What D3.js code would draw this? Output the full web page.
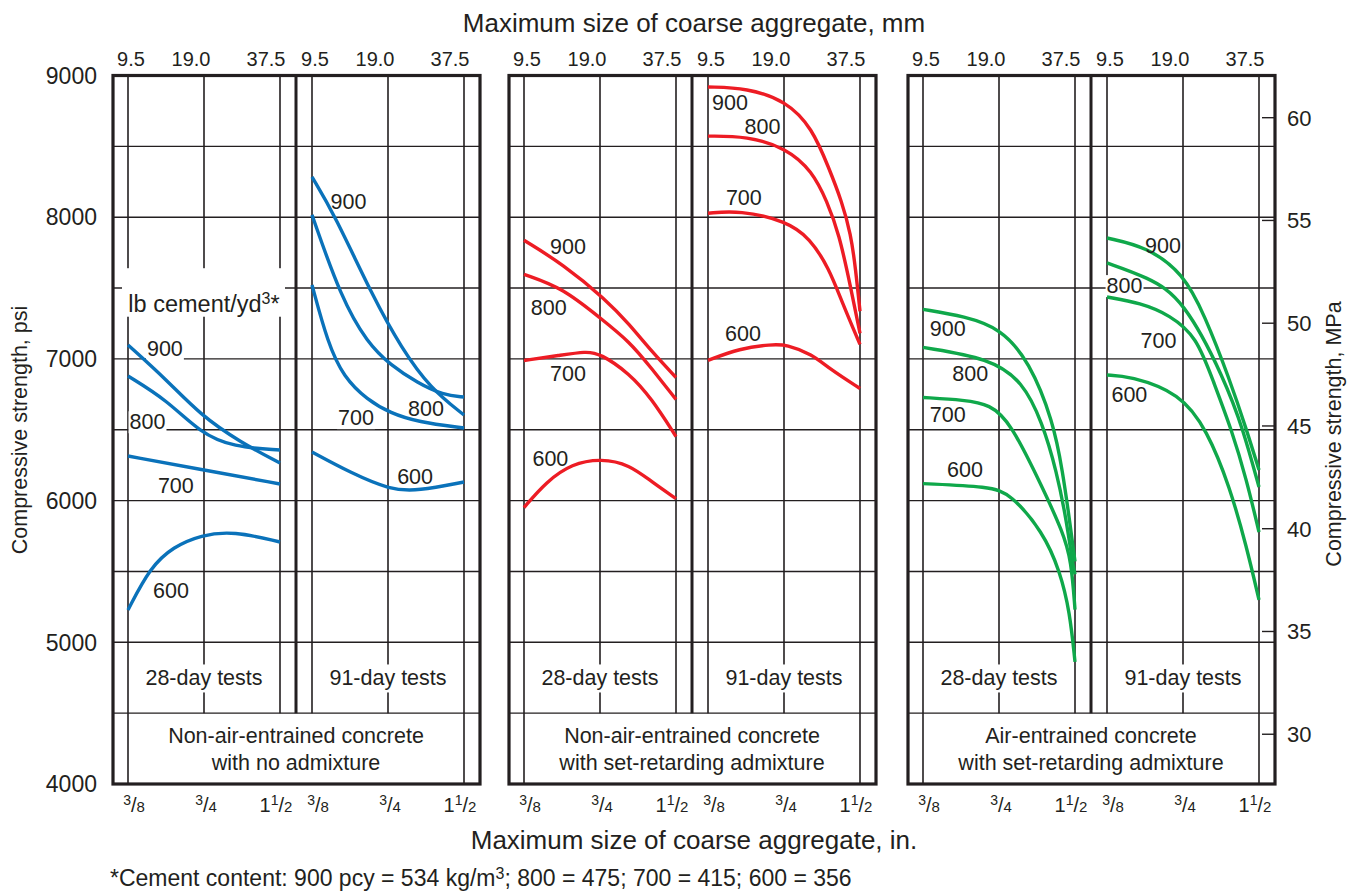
<!DOCTYPE html>
<html>
<head>
<meta charset="utf-8">
<script src="https://cdn.jsdelivr.net/npm/d3@7"></script>
<style>
  body { margin: 0; background: #fff; }
  svg text { font-family: "Liberation Sans", Arial, Helvetica, sans-serif; fill: #231f20; }
</style>
</head>
<body>
<svg id="chart" width="1358" height="891"></svg>
<script>
// ---- axis values ----
const sizesIn = [0.375, 0.75, 1.5];
const sizesMm = ["9.5", "19.0", "37.5"];
const sizesFrac = [["", "3", "8"], ["", "3", "4"], ["1", "1", "2"]];
const psiTicks = [4000, 5000, 6000, 7000, 8000, 9000];
const psiGrid = [4500, 5000, 5500, 6000, 6500, 7000, 7500, 8000, 8500];
const mpaTicks = [30, 35, 40, 45, 50, 55, 60];
const cements = [900, 800, 700, 600];

// ---- curves: [max size in., strength psi], one list per cement content (900, 800, 700, 600) ----
const noAdmix28 = [
  [[0.375, 7098], [0.534, 6851], [0.726, 6604], [1.04, 6414], [1.5, 6265]],
  [[0.375, 6879], [0.534, 6710], [0.726, 6477], [0.98, 6378], [1.5, 6357]],
  [[0.375, 6315], [0.75, 6216], [1.5, 6117]],
  [[0.375, 5228], [0.46, 5531], [0.566, 5673], [0.73, 5757], [0.98, 5785], [1.5, 5708]]
];
const noAdmix91 = [
  [[0.375, 8284], [0.459, 8023], [0.657, 7430], [0.848, 7077], [1.1, 6795], [1.5, 6604]],
  [[0.375, 8016], [0.489, 7430], [0.622, 7112], [0.767, 6957], [0.983, 6830], [1.24, 6745], [1.5, 6731]],
  [[0.375, 7522], [0.433, 7112], [0.5, 6872], [0.622, 6710], [0.767, 6618], [0.983, 6555], [1.5, 6512]],
  [[0.375, 6343], [0.535, 6195], [0.767, 6075], [0.983, 6068], [1.5, 6131]]
];
const retard28 = [
  [[0.375, 7837], [0.535, 7668], [0.79, 7420], [0.98, 7244], [1.2, 7053], [1.5, 6869]],
  [[0.375, 7597], [0.535, 7500], [0.75, 7289], [0.98, 7124], [1.2, 6933], [1.5, 6714]],
  [[0.375, 6989], [0.52, 7025], [0.66, 7053], [0.75, 7039], [0.98, 6898], [1.2, 6721], [1.5, 6452]],
  [[0.375, 5951], [0.46, 6134], [0.58, 6261], [0.76, 6297], [0.98, 6254], [1.2, 6134], [1.5, 6014]]
];
const retard91 = [
  [[0.375, 8919], [0.535, 8912], [0.767, 8820], [0.97, 8629], [1.13, 8346], [1.27, 8113], [1.38, 7880], [1.44, 7640], [1.5, 7336]],
  [[0.375, 8572], [0.535, 8572], [0.767, 8488], [0.97, 8325], [1.11, 8113], [1.24, 7880], [1.37, 7527], [1.5, 7180]],
  [[0.375, 8028], [0.5, 8049], [0.767, 7972], [0.95, 7852], [1.13, 7640], [1.27, 7406], [1.5, 7102]],
  [[0.375, 6989], [0.5, 7074], [0.67, 7102], [0.767, 7102], [0.97, 7032], [1.13, 6933], [1.5, 6791]]
];
const air28 = [
  [[0.375, 7350], [0.55, 7300], [0.76, 7216], [0.99, 6982], [1.23, 6558], [1.34, 6205], [1.43, 5852], [1.5, 5570]],
  [[0.375, 7081], [0.69, 7004], [0.93, 6841], [1.11, 6558], [1.27, 6205], [1.39, 5852], [1.47, 5548], [1.5, 5480]],
  [[0.375, 6728], [0.55, 6710], [0.69, 6678], [0.83, 6558], [1.12, 6085], [1.34, 5781], [1.45, 5580], [1.5, 5230]],
  [[0.375, 6120], [0.69, 6099], [0.83, 6049], [1.12, 5781], [1.31, 5498], [1.43, 5216], [1.5, 4862]]
];
const air91 = [
  [[0.375, 7853], [0.54, 7790], [0.75, 7606], [0.914, 7310], [1.15, 6851], [1.34, 6498], [1.5, 6216]],
  [[0.375, 7677], [0.54, 7578], [0.75, 7430], [1.1, 6851], [1.3, 6498], [1.5, 6096]],
  [[0.375, 7437], [0.509, 7395], [0.665, 7310], [0.85, 7155], [0.984, 6851], [1.17, 6498], [1.34, 6145], [1.5, 5778]],
  [[0.375, 6886], [0.46, 6879], [0.73, 6759], [0.934, 6498], [1.15, 6096], [1.34, 5673], [1.5, 5299]]
];

// where the cement numbers sit (max size in., psi), same order as cements
const noAdmix28Spots = [[0.525, 7074], [0.448, 6558], [0.58, 6106], [0.555, 5364]];
const noAdmix91Spots = [[0.523, 8113], [1.06, 6650], [0.56, 6587], [0.96, 6170]];
const retard28Spots = [[0.56, 7795], [0.47, 7364], [0.56, 6898], [0.477, 6297]];
const retard91Spots = [[0.458, 8813], [0.616, 8643], [0.52, 8141], [0.516, 7180]];
const air28Spots = [[0.47, 7216], [0.577, 6898], [0.47, 6608], [0.55, 6219]];
const air91Spots = [[0.625, 7802], [0.44, 7519], [0.6, 7131], [0.46, 6749]];

const groups = [
  { left: 113, color: "#0a72ba", panels: [noAdmix28, noAdmix91], spots: [noAdmix28Spots, noAdmix91Spots],
    title: ["Non-air-entrained concrete", "with no admixture"] },
  { left: 509, color: "#ed1c24", panels: [retard28, retard91], spots: [retard28Spots, retard91Spots],
    title: ["Non-air-entrained concrete", "with set-retarding admixture"] },
  { left: 908, color: "#0fa84a", panels: [air28, air91], spots: [air28Spots, air91Spots],
    title: ["Air-entrained concrete", "with set-retarding admixture"] }
];
const dayLabels = ["28-day tests", "91-day tests"];

const svg = d3.select("#chart");
const ink = "#231f20";

const y = d3.scaleLinear().domain([4000, 9000]).range([784, 75.5]);
const yMpa = d3.scaleLinear().domain([4000 / 145.038, 9000 / 145.038]).range([784, 75.5]);

const groupW = 367, divX = 183;
const panelOffsets = [15, 199], gridSpan = 152;

// white box behind a text node
function backWith(layer, textSel, pad) {
  const b = textSel.node().getBBox();
  layer.append("rect")
    .attr("x", b.x - pad).attr("y", b.y - pad + 2)
    .attr("width", b.width + 2 * pad).attr("height", b.height + 2 * pad - 4)
    .attr("fill", "#fff");
}

groups.forEach(grp => {
  const g = svg.append("g");
  const gridL = g.append("g");
  const backL = g.append("g");
  const curveL = g.append("g");
  const textL = g.append("g");
  const L = grp.left;

  // horizontal grid
  gridL.selectAll(".h").data(psiGrid).enter().append("line")
    .attr("x1", L).attr("x2", L + groupW)
    .attr("y1", d => y(d)).attr("y2", d => y(d))
    .attr("stroke", ink).attr("stroke-width", 1.4);

  grp.panels.forEach((series, p) => {
    const x = d3.scaleLog().domain([0.375, 1.5])
      .range([L + panelOffsets[p], L + panelOffsets[p] + gridSpan]);

    // vertical grid, outer ones run into the title strip
    gridL.selectAll(".v" + p).data(sizesIn).enter().append("line")
      .attr("x1", d => x(d)).attr("x2", d => x(d))
      .attr("y1", y(9000))
      .attr("y2", (d, i) => ((p === 0 && i === 0) || (p === 1 && i === 2)) ? y(4000) : y(4500))
      .attr("stroke", ink).attr("stroke-width", 1.6);

    // mm labels on top
    const mmShift = [3, -13, -14];
    textL.selectAll(".mm" + p).data(sizesMm).enter().append("text")
      .attr("x", (d, i) => x(sizesIn[i]) + mmShift[i]).attr("y", 66)
      .attr("text-anchor", "middle").attr("font-size", 20)
      .text(d => d);

    // inch labels at bottom
    const inShift = [6, 2, -4];
    sizesFrac.forEach((f, i) => {
      const t = textL.append("text")
        .attr("x", x(sizesIn[i]) + inShift[i]).attr("y", 812)
        .attr("text-anchor", "middle").attr("font-size", 20);
      if (f[0]) t.append("tspan").text(f[0]);
      t.append("tspan").attr("font-size", 14).attr("dy", -7).text(f[1]);
      t.append("tspan").attr("dy", 7).text("/");
      t.append("tspan").attr("font-size", 15).text(f[2]);
    });

    // day label
    const dl = textL.append("text")
      .attr("x", x(0.75)).attr("y", y(4750)).attr("dy", "0.36em")
      .attr("text-anchor", "middle").attr("font-size", 21.5)
      .text(dayLabels[p]);
    backWith(backL, dl, 4);

    // curves
    const line = d3.line().x(d => x(d[0])).y(d => y(d[1])).curve(d3.curveBasis);
    curveL.selectAll(".c" + p).data(series).enter().append("path")
      .attr("d", line).attr("fill", "none")
      .attr("stroke", grp.color).attr("stroke-width", 3.4);

    // cement numbers
    grp.spots[p].forEach((s, i) => {
      const t = textL.append("text")
        .attr("x", x(s[0])).attr("y", y(s[1])).attr("dy", "0.36em")
        .attr("text-anchor", "middle").attr("font-size", 21.5)
        .text(cements[i]);
      backWith(backL, t, 1);
    });

    if (grp.left === 113 && p === 0) {
      const lb = textL.append("text")
        .attr("x", x(0.75)).attr("y", y(7392)).attr("dy", "0.36em")
        .attr("text-anchor", "middle").attr("font-size", 23.5);
      lb.append("tspan").text("lb cement/yd");
      lb.append("tspan").attr("font-size", 16).attr("dy", -8).text("3");
      lb.append("tspan").attr("dy", 8).text("*");
      backL.append("rect")
        .attr("x", L + 9).attr("y", y(7640))
        .attr("width", 163).attr("height", y(7340) - y(7640) + 6)
        .attr("fill", "#fff");
    }
  });

  // divider between 28 and 91 day panels
  gridL.append("line")
    .attr("x1", L + divX).attr("x2", L + divX)
    .attr("y1", y(9000)).attr("y2", y(4500))
    .attr("stroke", ink).attr("stroke-width", 3);

  // frame
  gridL.append("rect")
    .attr("x", L).attr("y", y(9000))
    .attr("width", groupW).attr("height", y(4000) - y(9000))
    .attr("fill", "none").attr("stroke", ink).attr("stroke-width", 3.2);

  // group title in the bottom strip
  textL.selectAll(".title").data(grp.title).enter().append("text")
    .attr("x", L + divX).attr("y", (d, i) => y(4250) + (i === 0 ? -5.6 : 21.4))
    .attr("text-anchor", "middle").attr("font-size", 21.5)
    .text(d => d);
});

// left axis labels
svg.append("g").selectAll("text").data(psiTicks).enter().append("text")
  .attr("x", 97).attr("y", d => y(d)).attr("dy", "0.36em")
  .attr("text-anchor", "end").attr("font-size", 23)
  .text(d => d);

svg.append("text")
  .attr("transform", "translate(27,430) rotate(-90)")
  .attr("text-anchor", "middle").attr("font-size", 21.5)
  .text("Compressive strength, psi");

// right MPa axis
const mpaG = svg.append("g");
mpaG.selectAll("line").data(mpaTicks).enter().append("line")
  .attr("x1", 1262).attr("x2", 1276)
  .attr("y1", d => yMpa(d)).attr("y2", d => yMpa(d))
  .attr("stroke", ink).attr("stroke-width", 1.4);
mpaG.selectAll("text").data(mpaTicks).enter().append("text")
  .attr("x", 1287).attr("y", d => yMpa(d)).attr("dy", "0.36em")
  .attr("font-size", 22)
  .text(d => d);

svg.append("text")
  .attr("transform", "translate(1341,434) rotate(-90)")
  .attr("text-anchor", "middle").attr("font-size", 21.5)
  .text("Compressive strength, MPa");

// titles and footnote
svg.append("text")
  .attr("x", 694).attr("y", 32)
  .attr("text-anchor", "middle").attr("font-size", 26)
  .text("Maximum size of coarse aggregate, mm");

svg.append("text")
  .attr("x", 694).attr("y", 849)
  .attr("text-anchor", "middle").attr("font-size", 26)
  .text("Maximum size of coarse aggregate, in.");

const foot = svg.append("text")
  .attr("x", 110).attr("y", 886).attr("font-size", 23);
foot.append("tspan").text("*Cement content: 900 pcy = 534 kg/m");
foot.append("tspan").attr("font-size", 16).attr("dy", -7).text("3");
foot.append("tspan").attr("dy", 7).text("; 800 = 475; 700 = 415; 600 = 356");
</script>
</body>
</html>
